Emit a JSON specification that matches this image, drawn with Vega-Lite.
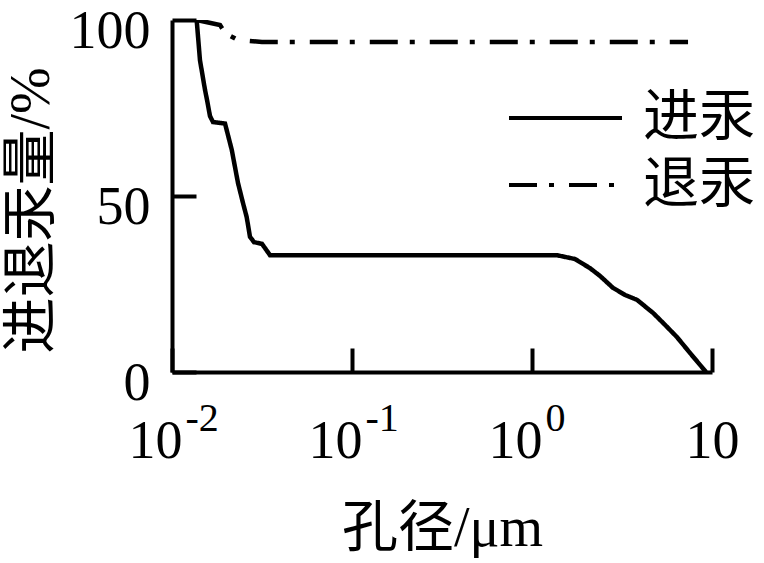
{
  "$schema": "https://vega.github.io/schema/vega-lite/v6.json",
  "width": 540,
  "height": 352,
  "autosize": "none",
  "padding": {"left": 172, "top": 20, "right": 52, "bottom": 191},
  "background": "white",
  "config": {
    "view": {"stroke": null},
    "font": "Liberation Serif",
    "axis": {
      "grid": false,
      "domainColor": "black",
      "domainWidth": 4,
      "tickColor": "black",
      "tickWidth": 4,
      "tickSize": -24,
      "labelColor": "black",
      "labelFont": "Liberation Serif, Noto Sans CJK SC",
      "labelFontSize": 54,
      "titleColor": "black",
      "titleFont": "Liberation Serif, Noto Sans CJK SC",
      "titleFontSize": 56,
      "titleFontWeight": "normal"
    }
  },
  "data": {
    "values": [
      {"d": 0.01371, "v": 100, "s": "进汞"},
      {"d": 0.01430, "v": 88.6, "s": "进汞"},
      {"d": 0.01526, "v": 80.1, "s": "进汞"},
      {"d": 0.01565, "v": 77.3, "s": "进汞"},
      {"d": 0.01626, "v": 72.7, "s": "进汞"},
      {"d": 0.01690, "v": 71.0, "s": "进汞"},
      {"d": 0.01970, "v": 70.6, "s": "进汞"},
      {"d": 0.02148, "v": 63.1, "s": "进汞"},
      {"d": 0.02326, "v": 53.7, "s": "进汞"},
      {"d": 0.02480, "v": 48.0, "s": "进汞"},
      {"d": 0.02600, "v": 44.0, "s": "进汞"},
      {"d": 0.02712, "v": 38.4, "s": "进汞"},
      {"d": 0.02855, "v": 36.9, "s": "进汞"},
      {"d": 0.03162, "v": 36.4, "s": "进汞"},
      {"d": 0.03503, "v": 33.2, "s": "进汞"},
      {"d": 1.371, "v": 33.2, "s": "进汞"},
      {"d": 1.733, "v": 32.1, "s": "进汞"},
      {"d": 2.100, "v": 29.5, "s": "进汞"},
      {"d": 2.387, "v": 27.3, "s": "进汞"},
      {"d": 2.818, "v": 23.9, "s": "进汞"},
      {"d": 3.286, "v": 21.9, "s": "进汞"},
      {"d": 3.831, "v": 20.5, "s": "进汞"},
      {"d": 4.701, "v": 16.8, "s": "进汞"},
      {"d": 5.483, "v": 13.4, "s": "进汞"},
      {"d": 6.393, "v": 9.9, "s": "进汞"},
      {"d": 7.55, "v": 5.4, "s": "进汞"},
      {"d": 9.26, "v": 0, "s": "进汞"},
      {"d": 0.01371, "v": 100, "s": "退汞"},
      {"d": 0.01848, "v": 98.6, "s": "退汞"},
      {"d": 0.0197, "v": 96.3, "s": "退汞"},
      {"d": 0.02326, "v": 94.3, "s": "退汞"},
      {"d": 0.0316, "v": 93.75, "s": "退汞"},
      {"d": 7.36, "v": 93.75, "s": "退汞"}
    ]
  },
  "encoding": {
    "y": {
      "field": "v",
      "type": "quantitative",
      "scale": {"domain": [0, 100], "nice": false},
      "axis": {
        "values": [0, 50, 100],
        "labelBaseline": "alphabetic",
        "labelOffset": 27,
        "labelPadding": 46,
        "title": "进退汞量/%",
        "titleBaseline": "alphabetic",
        "titleX": -124,
        "titleY": 190
      }
    }
  },
  "layer": [
    {
      "mark": {"type": "line", "color": "black", "strokeWidth": 4.5, "clip": true},
      "encoding": {
        "x": {
          "field": "d",
          "type": "quantitative",
          "scale": {"type": "log", "domain": [0.01, 10], "nice": false},
          "axis": {
            "orient": "bottom",
            "values": [0.01, 0.1, 1, 10],
            "labelExpr": "'10'",
            "labelBaseline": "alphabetic",
            "labelAlign": {"condition": {"test": "datum.value > 5", "value": "center"}, "value": "right"},
            "labelOffset": {"condition": {"test": "datum.value > 5", "value": 0}, "value": 10},
            "labelPadding": 109,
            "labelFlush": false,
            "labelOverlap": false,
            "title": "孔径/μm",
            "titleBaseline": "alphabetic",
            "titleY": 173
          }
        },
        "strokeDash": {
          "field": "s",
          "type": "nominal",
          "scale": {"domain": ["进汞", "退汞"], "range": [[1, 0], [28, 12, 5, 15]]},
          "legend": {
            "title": null,
            "orient": "none",
            "legendX": 335,
            "legendY": 70,
            "padding": 0,
            "symbolType": "stroke",
            "symbolSize": 12769,
            "symbolStrokeWidth": 4,
            "symbolStrokeColor": "black",
            "clipHeight": 56,
            "labelFont": "Liberation Serif, Noto Sans CJK SC",
            "labelFontSize": 56,
            "labelColor": "black",
            "labelOffset": 19,
            "rowPadding": 11,
            "labelLimit": 300
          }
        }
      }
    },
    {
      "mark": {"type": "line", "strokeOpacity": 0, "clip": true},
      "encoding": {
        "detail": {"field": "s"},
        "x": {
          "field": "d",
          "type": "quantitative",
          "scale": {"type": "log", "domain": [0.01, 10], "nice": false},
          "axis": {
            "orient": "bottom",
            "values": [0.01, 0.1, 1],
            "labelExpr": "datum.value < 0.05 ? '-2' : datum.value < 0.5 ? '-1' : '0'",
            "domain": false,
            "ticks": false,
            "labelFontSize": 40,
            "labelBaseline": "alphabetic",
            "labelAlign": "left",
            "labelOffset": 13,
            "labelPadding": 58,
            "labelFlush": false,
            "labelOverlap": false,
            "title": null
          }
        }
      }
    }
  ],
  "resolve": {"axis": {"x": "independent"}}
}
